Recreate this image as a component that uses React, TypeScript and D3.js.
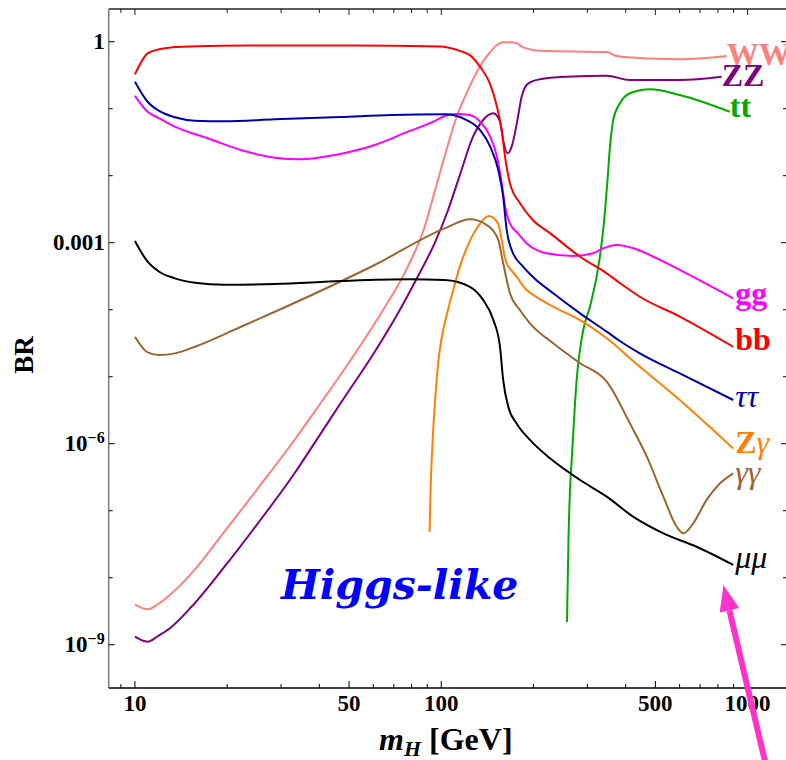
import React from 'react';
import * as d3 from 'd3';

type Pt = [number, number];

// Higgs mass (GeV) vs branching ratio, one array per decay channel
const bb: Pt[] = [[10, 0.326], [11, 0.67], [12, 0.77], [13.5, 0.83], [15, 0.85], [24, 0.88], [50, 0.88], [99, 0.85], [115, 0.73], [124, 0.63], [134, 0.42], [144, 0.24], [152, 0.107], [157.5, 0.048], [161.5, 0.0192], [167.6, 0.0077], [180.6, 0.0039], [199, 0.00218], [226, 0.0014], [284, 6.18e-4], [347, 3.49e-4], [383, 2.5e-4], [445, 1.56e-4], [601, 7.9e-5], [898, 2.8e-5]];
const tautau: Pt[] = [[10, 0.253], [11, 0.127], [12, 0.0925], [13.5, 0.0744], [15.7, 0.0662], [19.6, 0.0649], [28.6, 0.0695], [47, 0.0752], [69, 0.0805], [103, 0.0825], [121, 0.0678], [134, 0.048], [144.5, 0.0271], [153.5, 0.0122], [159.3, 0.00486], [163.5, 0.00155], [169.8, 7.78e-4], [185, 4.39e-4], [200, 3.03e-4], [232, 1.76e-4], [284, 8.83e-5], [347, 4.7e-5], [383, 3.41e-5], [445, 2.23e-5], [601, 1.12e-5], [898, 4.49e-6]];
const gg: Pt[] = [[10, 0.155], [11, 0.0902], [12, 0.0719], [13.5, 0.0539], [17.3, 0.0362], [22.2, 0.0242], [28.6, 0.0186], [34.9, 0.0176], [45, 0.0204], [60.6, 0.0287], [77.8, 0.0454], [94.2, 0.064], [102.6, 0.0778], [112.2, 0.0834], [124, 0.0805], [134, 0.064], [144.5, 0.0382], [152, 0.0192], [157.6, 0.0077], [161.5, 0.00345], [167.6, 0.00195], [178, 0.00138], [190, 9.8e-4], [221, 6.95e-4], [270, 6.34e-4], [313, 6.95e-4], [338, 8.25e-4], [374, 9.24e-4], [424, 8.25e-4], [480, 6.55e-4], [601, 3.92e-4], [898, 1.48e-4]];
const mumu: Pt[] = [[10, 1.06e-3], [11, 5.2e-4], [12, 3.69e-4], [13.5, 2.94e-4], [15.7, 2.53e-4], [19.6, 2.36e-4], [28.6, 2.42e-4], [47.2, 2.68e-4], [77.8, 2.84e-4], [102.6, 2.77e-4], [124, 2.2e-4], [137, 1.4e-4], [148, 7.0e-5], [155.5, 2.8e-5], [159.3, 8.9e-6], [165.5, 3.57e-6], [176.2, 2.01e-6], [194.8, 1.14e-6], [226.5, 6.05e-7], [284, 2.87e-7], [347, 1.62e-7], [424, 8.1e-8], [531, 4.6e-8], [682, 2.9e-8], [898, 1.55e-8]];
const gamgam: Pt[] = [[10, 3.95e-5], [11, 2.31e-5], [12, 2.11e-5], [13.5, 2.23e-5], [15.7, 2.8e-5], [22.2, 5.57e-5], [36.7, 1.56e-4], [60.6, 4.65e-4], [102.6, 1.64e-3], [124, 2.23e-3], [140.6, 1.84e-3], [153.5, 1.1e-3], [159.3, 4.93e-4], [167.6, 1.76e-4], [180.6, 9.9e-5], [194.8, 6.27e-5], [232, 3.15e-5], [284, 1.59e-5], [347, 8.42e-6], [413, 2.01e-6], [469, 6.4e-7], [531, 1.62e-7], [587, 5.77e-8], [617, 4.6e-8], [665, 6.5e-8], [735, 1.45e-7], [813, 2.57e-7], [898, 3.62e-7]];
const zgam: Pt[] = [[91.6, 4.8e-8], [93.05, 5.71e-7], [96.6, 8.93e-6], [98.7, 2.34e-5], [101.5, 4.98e-5], [109.4, 1.97e-4], [118, 6.18e-4], [130.6, 1.64e-3], [142.4, 2.5e-3], [152, 2.06e-3], [157.6, 1.1e-3], [163.5, 4.93e-4], [176.2, 3.11e-4], [190, 1.97e-4], [232, 1.11e-4], [284, 7.0e-5], [347, 3.74e-5], [445, 1.41e-5], [601, 4.49e-6], [898, 8.5e-7]];
const ww: Pt[] = [[10, 4.0e-9], [11, 3.37e-9], [11.9, 4.05e-9], [13, 5.52e-9], [15.3, 1.16e-8], [19.6, 4.86e-8], [25.2, 2.16e-7], [32.1, 9.24e-7], [40.2, 3.92e-6], [49.6, 1.55e-5], [63.6, 8.83e-5], [77.8, 4.39e-4], [88.3, 1.73e-3], [95.1, 5.71e-3], [105.1, 0.0287], [112.5, 0.0778], [121, 0.171], [134, 0.434], [144.5, 0.702], [152, 0.893], [159, 0.98], [167.6, 0.98], [176.5, 0.946], [185, 0.824], [210, 0.734], [347, 0.70], [374, 0.612], [480, 0.561], [601, 0.546], [855, 0.612]];
const zz: Pt[] = [[10, 1.32e-9], [11, 1.11e-9], [11.9, 1.35e-9], [13, 1.76e-9], [15.3, 3.69e-9], [19.6, 1.46e-8], [25.2, 6.49e-8], [33.2, 3.62e-7], [38.6, 1.03e-6], [47.2, 4.19e-6], [60.6, 2.34e-5], [72.3, 8.93e-5], [84, 3.18e-4], [95.1, 9.8e-4], [104.7, 2.87e-3], [115, 0.0102], [127, 0.0382], [137, 0.0678], [148, 0.0853], [155.5, 0.064], [159.3, 0.0341], [164.3, 0.0216], [169.8, 0.0271], [176.5, 0.0605], [183, 0.151], [192.4, 0.239], [210, 0.275], [256.6, 0.30], [347, 0.311], [413, 0.268], [601, 0.268], [823, 0.30]];
const tt: Pt[] = [[257.3, 2.18e-9], [260.2, 3.66e-8], [263.2, 2.04e-7], [266.6, 5.71e-7], [276.7, 8.93e-6], [290.8, 4.98e-5], [305.8, 1.11e-4], [329.6, 6.18e-4], [342, 2.77e-3], [348.9, 8.63e-3], [355.5, 0.0271], [364.4, 0.0678], [383.2, 0.1205], [413, 0.17], [480, 0.195], [601, 0.16], [875, 0.09]];

// axis ticks
const massMajor = [10, 50, 100, 500, 1000];
const massMinor = [9, 20, 30, 40, 60, 70, 80, 90, 200, 300, 400, 600, 700, 800, 900];
const brMajor = [1, 1e-3, 1e-6, 1e-9];
const brMajorLabels: [string, string][] = [['1', ''], ['0.001', ''], ['10', '\u22126'], ['10', '\u22129']];
const brMinor = [0.1, 0.01, 1e-4, 1e-5, 1e-7, 1e-8];

type Part = { t: string; bold?: boolean; italic?: boolean };
type Series = { key: string; data: Pt[]; color: string; label: Part[]; dx: number; dy: number; steep?: boolean };

const series: Series[] = [
  { key: 'ww', data: ww, color: '#ff7f7f', label: [{ t: 'WW', bold: true }], dx: 0, dy: 9 },
  { key: 'zz', data: zz, color: '#800080', label: [{ t: 'ZZ', bold: true }], dx: 0, dy: 9 },
  { key: 'tt', data: tt, color: '#00aa00', label: [{ t: 'tt', bold: true }], dx: 0, dy: 5 },
  { key: 'gg', data: gg, color: '#ff00ff', label: [{ t: 'gg', bold: true }], dx: 2, dy: 6 },
  { key: 'bb', data: bb, color: '#ff0000', label: [{ t: 'bb', bold: true }], dx: 2, dy: 3.5 },
  { key: 'tautau', data: tautau, color: '#0000aa', label: [{ t: '\u03c4\u03c4', italic: true }], dx: 2, dy: 7 },
  { key: 'zgam', data: zgam, color: '#ff8000', label: [{ t: 'Z', bold: true }, { t: '\u03b3', italic: true }], dx: 2, dy: 5, steep: true },
  { key: 'gamgam', data: gamgam, color: '#996633', label: [{ t: '\u03b3\u03b3', italic: true }], dx: 2, dy: 10 },
  { key: 'mumu', data: mumu, color: '#000000', label: [{ t: '\u03bc\u03bc', italic: true }], dx: 2, dy: 3 },
];

const W = 786;
const H = 760;
const frame = { left: 108.7, right: 787, top: 9, bottom: 688 };
const serif = '"Liberation Serif", "Times New Roman", serif';

export default function App() {
  const x = d3.scaleLog().domain([8.21, 1345]).range([frame.left, frame.right]);
  const y = d3.scaleLog().domain([2.26e-10, 3.076]).range([frame.bottom, frame.top]);
  const line = d3
    .line<Pt>()
    .x((d) => x(d[0]))
    .y((d) => y(d[1]))
    .curve(d3.curveMonotoneX);
  // centripetal Catmull-Rom keeps the near-vertical threshold rise smooth
  const steepLine = d3
    .line<Pt>()
    .x((d) => x(d[0]))
    .y((d) => y(d[1]))
    .curve(d3.curveCatmullRom.alpha(0.5));

  // annotation arrow pointing at the low-BR end of the plot
  const tip: [number, number] = [x(834), y(7.8e-9)];
  const ang = Math.atan2(120, 28.3);
  const ux = Math.cos(ang);
  const uy = Math.sin(ang);
  const headLen = 26;
  const headHalf = 10;
  const base: [number, number] = [tip[0] + ux * headLen, tip[1] + uy * headLen];
  const tail: [number, number] = [tip[0] + ux * 220, tip[1] + uy * 220];
  const head = [
    tip,
    [base[0] - uy * headHalf, base[1] + ux * headHalf],
    [base[0] + uy * headHalf, base[1] - ux * headHalf],
  ];

  const axisGray = '#7a7a7a';

  return (
    <svg
      width={W}
      height={H}
      viewBox={`0 0 ${W} ${H}`}
      style={{ position: 'absolute', left: 0, top: 0, background: '#fff' }}
      fontFamily={serif}
    >
      <defs>
        <clipPath id="plot-clip">
          <rect x={frame.left} y={frame.top} width={frame.right - frame.left} height={frame.bottom - frame.top} />
        </clipPath>
      </defs>
      <rect width={W} height={H} fill="#fff" />

      {/* frame */}
      <line x1={frame.left} x2={frame.right} y1={frame.top} y2={frame.top} stroke="#222" strokeWidth={1.3} />
      <line x1={frame.right} x2={frame.right} y1={frame.top} y2={frame.bottom} stroke={axisGray} strokeWidth={1.3} />
      <line x1={frame.left} x2={frame.left} y1={frame.top} y2={frame.bottom} stroke={axisGray} strokeWidth={1.5} />
      <line x1={frame.left} x2={frame.right} y1={frame.bottom} y2={frame.bottom} stroke="#000" strokeWidth={1.5} />

      {/* mass ticks on bottom and top */}
      {massMajor.concat(massMinor).map((m) => {
        const major = massMajor.includes(m);
        const px = x(m);
        return (
          <g key={`mt${m}`}>
            <line x1={px} x2={px} y1={frame.bottom} y2={frame.bottom - (major ? 7 : 4)} stroke="#000" strokeWidth={1} />
            <line x1={px} x2={px} y1={frame.top} y2={frame.top + (major ? 6 : 4)} stroke="#222" strokeWidth={1} />
          </g>
        );
      })}
      {massMajor.map((m) => (
        <text key={`ml${m}`} x={x(m)} y={frame.bottom + 23} textAnchor="middle" fontSize={23} fontWeight="bold">
          {m}
        </text>
      ))}

      {/* BR ticks on left and right */}
      {brMajor.concat(brMinor).map((b) => {
        const major = brMajor.includes(b);
        const py = y(b);
        return (
          <g key={`bt${b}`}>
            <line x1={frame.left} x2={frame.left + (major ? 6 : 4)} y1={py} y2={py} stroke="#000" strokeWidth={1} />
            <line x1={frame.right} x2={frame.right - (major ? 6 : 4)} y1={py} y2={py} stroke="#000" strokeWidth={1} />
          </g>
        );
      })}
      {brMajor.map((b, i) => {
        const [main, sup] = brMajorLabels[i];
        return (
          <text key={`bl${b}`} x={frame.left - 4} y={y(b) + 7.5} textAnchor="end" fontSize={23} fontWeight="bold">
            <tspan>{main}</tspan>
            {sup && (
              <tspan fontSize={16} dy={-8}>
                {sup}
              </tspan>
            )}
          </text>
        );
      })}

      {/* axis titles */}
      <text transform="translate(33,355) rotate(-90)" textAnchor="middle" fontSize={27} fontWeight="bold">
        BR
      </text>
      <text x={379} y={750} fontSize={32} fontWeight="bold">
        <tspan fontStyle="italic">m</tspan>
        <tspan fontStyle="italic" fontSize={22} dy={6}>
          H
        </tspan>
        <tspan dy={-6}> [GeV]</tspan>
      </text>

      {/* decay channel curves */}
      <g clipPath="url(#plot-clip)">
        {series.map((s) => (
          <path
            key={s.key}
            d={(s.steep ? steepLine(s.data) : line(s.data)) ?? ''}
            fill="none"
            stroke={s.color}
            strokeWidth={2}
            strokeLinejoin="round"
          />
        ))}
      </g>

      {/* channel labels at the curve ends */}
      {series.map((s) => {
        const last = s.data[s.data.length - 1];
        return (
          <text key={`lab-${s.key}`} x={x(last[0]) + s.dx} y={y(last[1]) + s.dy} fontSize={32} fill={s.color}>
            {s.label.map((p, i) => (
              <tspan key={i} fontWeight={p.bold ? 'bold' : 'normal'} fontStyle={p.italic ? 'italic' : 'normal'}>
                {p.t}
              </tspan>
            ))}
          </text>
        );
      })}

      <text
        x={281}
        y={599}
        fontSize={41}
        fontWeight="bold"
        fontStyle="italic"
        fill="#0000ff"
        fontFamily='"DejaVu Serif", serif'
      >
        Higgs-like
      </text>

      {/* arrow */}
      <line x1={base[0]} y1={base[1]} x2={tail[0]} y2={tail[1]} stroke="#ff33cc" strokeWidth={6} />
      <polygon points={head.map((p) => p.join(',')).join(' ')} fill="#ff33cc" />
    </svg>
  );
}
